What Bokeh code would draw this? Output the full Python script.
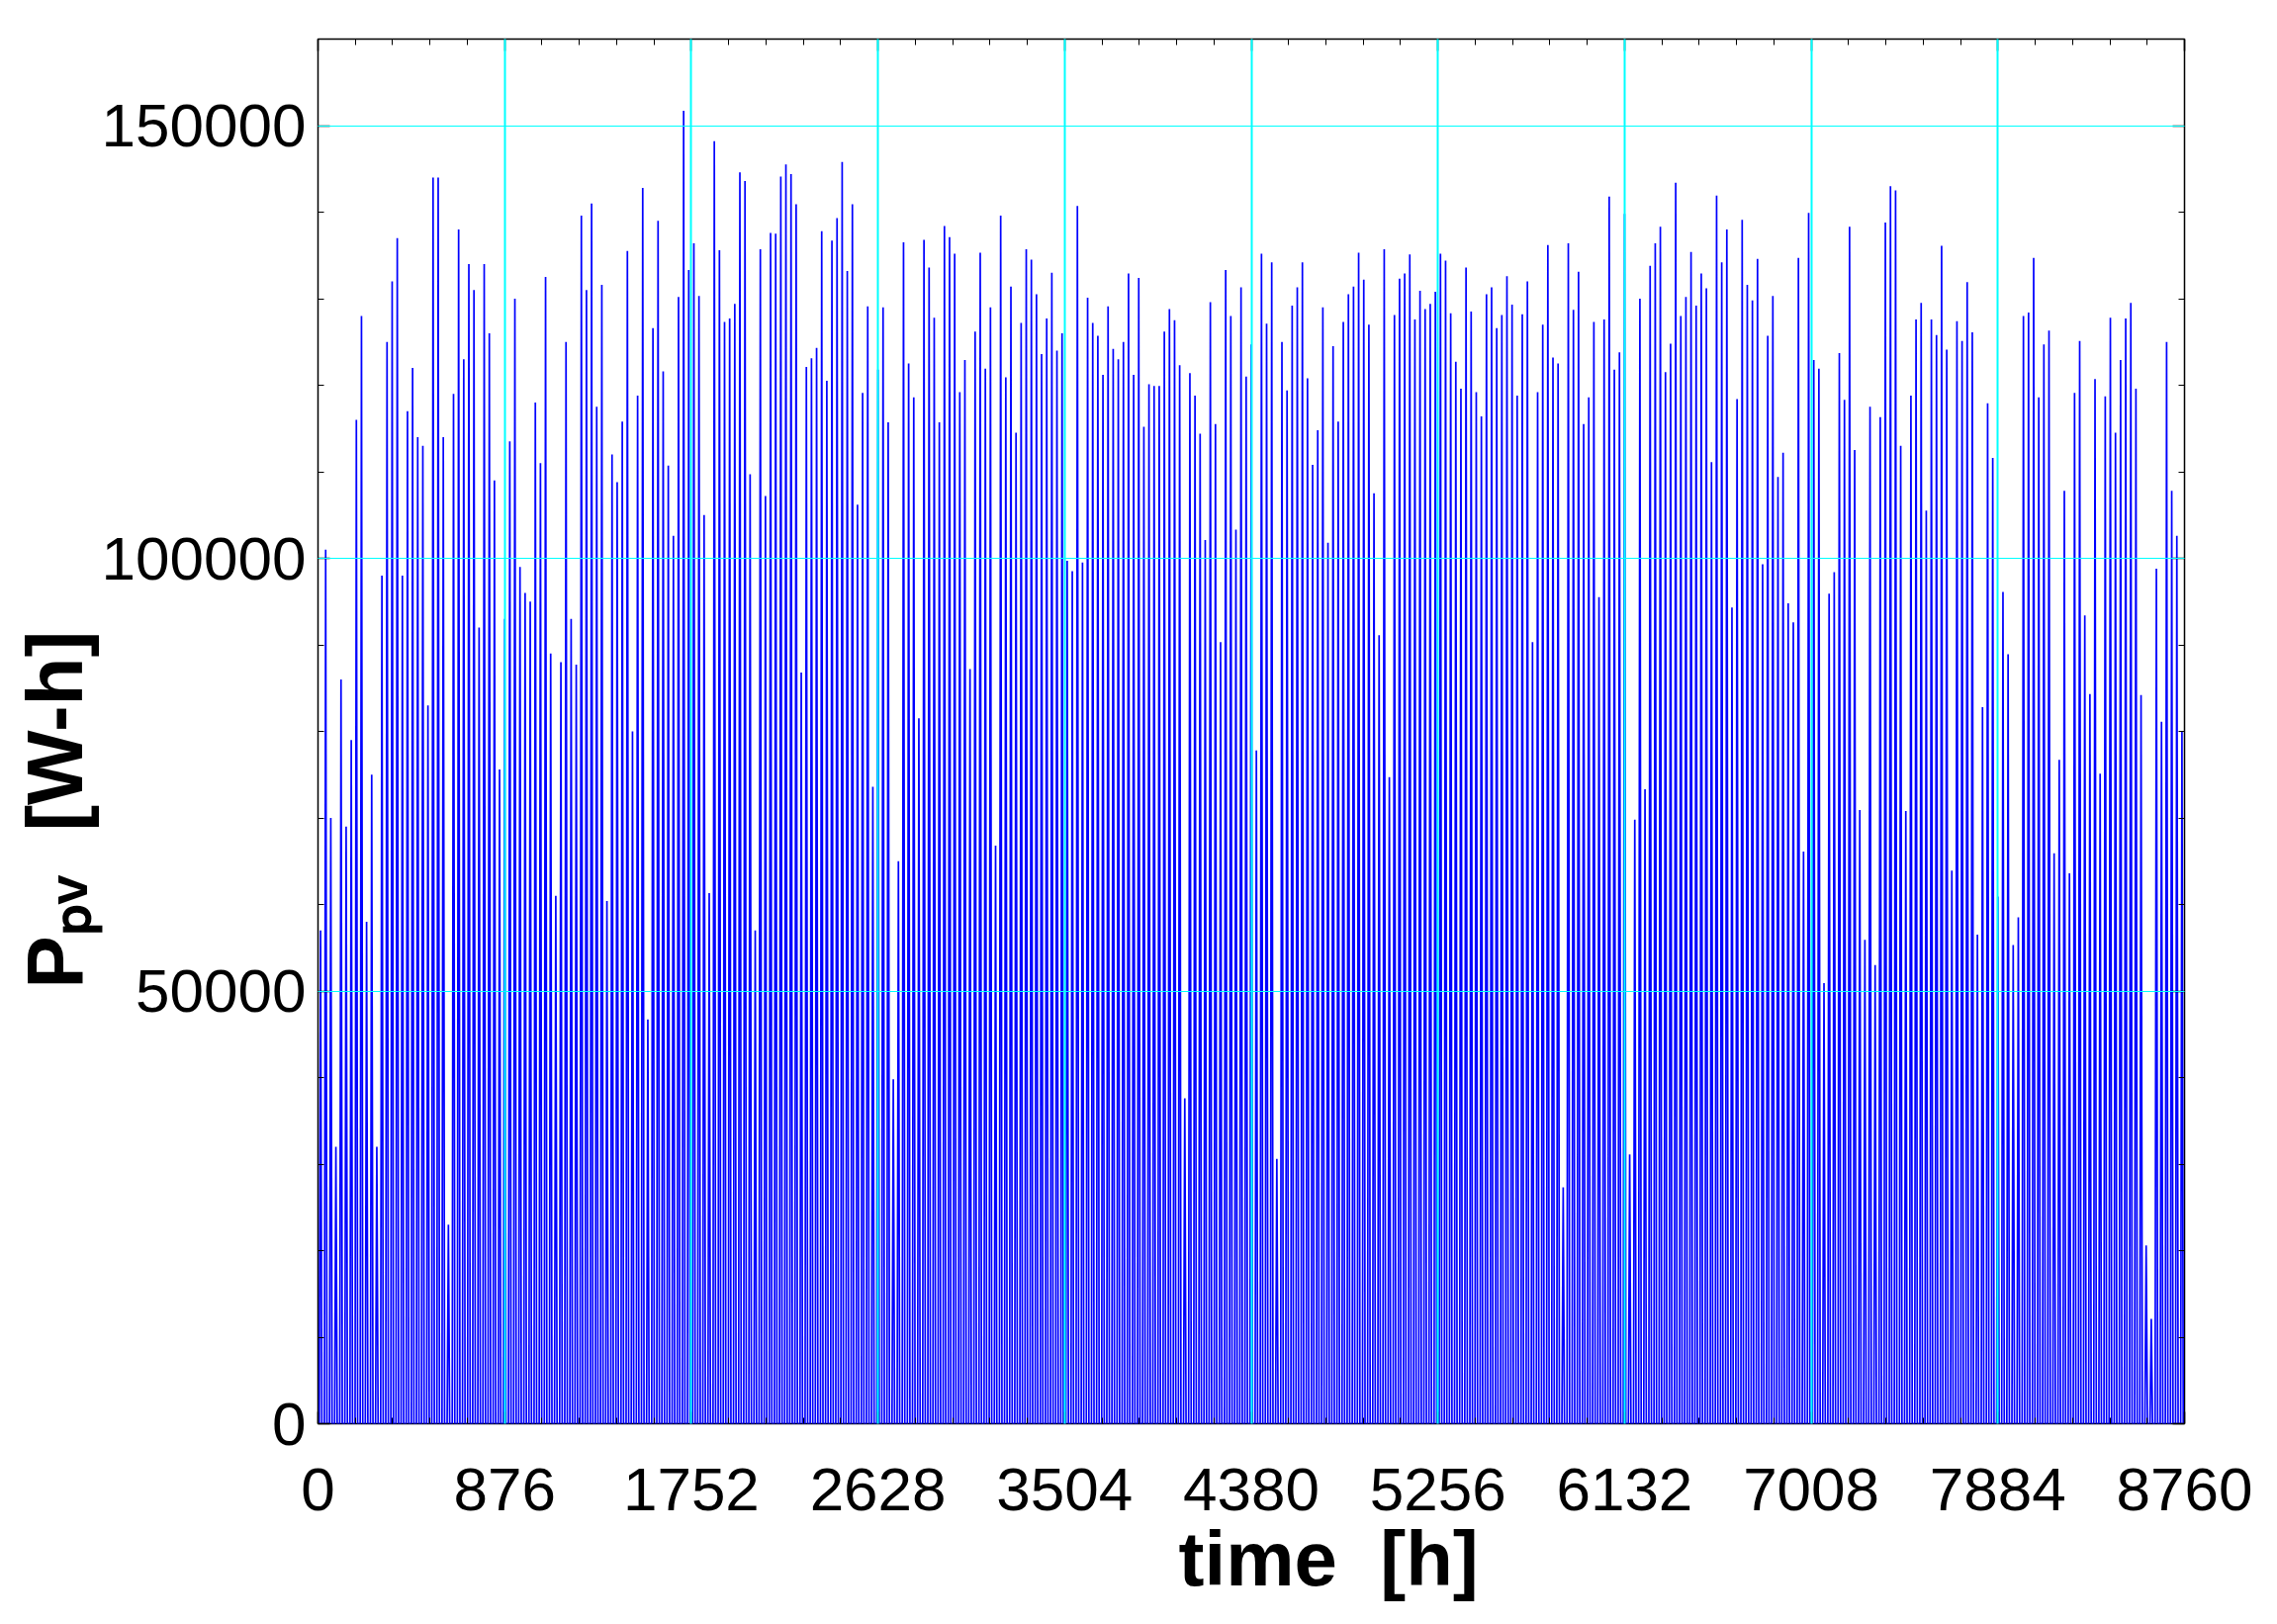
import numpy as np
from bokeh.plotting import figure
from bokeh.models import FixedTicker, LinearAxis, Range1d, ColumnDataSource, NumeralTickFormatter, Title
from bokeh.embed import file_html
from bokeh.resources import INLINE

# ---- data: daily peak PV energy [W-h] ----
peaks_d000_033 = [57000, 101000, 70000, 32000, 86000, 69000, 79000, 116000, 128000, 58000, 75000, 32000,
                  98000, 125000, 132000, 137000, 98000, 117000, 122000, 114000, 113000, 83000, 144000, 144000,
                  114000, 23000, 119000, 138000, 123000, 134000, 131000, 92000, 134000, 126000]
peaks_d034_066 = [109000, 75600, 93000, 113500, 130000, 99000, 96000, 95000, 118000, 111000, 132500, 89000,
                  61000, 88000, 125000, 93000, 87700, 139600, 131000, 141000, 117500, 131600, 60400, 112000,
                  108800, 115800, 135500, 80000, 118800, 142800, 46700, 126600, 139000]
peaks_d067_099 = [121600, 110700, 102600, 130200, 151700, 133300, 136400, 130300, 105000, 61300, 148200, 135600,
                  127300, 127700, 129400, 144600, 143600, 109700, 57000, 135700, 107200, 137600, 137500, 144100,
                  145500, 144400, 140900, 86800, 122100, 123100, 124300, 137800, 120500]
peaks_d100_132 = [136700, 139300, 145800, 133200, 140900, 106200, 119100, 129100, 73600, 121800, 129000, 115700,
                  39800, 65000, 136500, 122500, 118600, 81500, 136800, 133600, 127800, 115700, 138400, 137100,
                  135200, 119200, 122900, 87200, 126200, 135300, 121900, 129000, 66800]
peaks_d133_166 = [139600, 120900, 131400, 114500, 127200, 135700, 134500, 130500, 123600, 127700, 133000, 124000,
                  126000, 99700, 98500, 140700, 99500, 130100, 127200, 125700, 121200, 129100, 124200, 123000,
                  125000, 132900, 121200, 132400, 115200, 120100, 119900, 119900, 126200, 128800]
peaks_d167_199 = [127500, 122300, 37600, 121400, 118800, 114400, 102100, 129600, 115500, 90300, 133300, 128000,
                  103300, 131300, 121000, 124700, 77800, 135200, 127100, 134200, 30600, 125000, 119400, 129200,
                  131300, 134200, 120800, 110800, 114800, 129000, 101800, 124500, 115800]
peaks_d200_232 = [127300, 130500, 131400, 135300, 132200, 127000, 107500, 91100, 135700, 74700, 128100, 132300,
                  132900, 135100, 127600, 130900, 128800, 129400, 130800, 135200, 134400, 128300, 122700, 119600,
                  133600, 128500, 119200, 116400, 130500, 131300, 126600, 128100, 132600]
peaks_d233_265 = [129300, 118800, 128200, 132000, 90300, 119200, 127000, 136200, 123200, 122500, 27300, 136400,
                  128700, 133100, 115500, 118600, 127300, 95500, 127600, 141800, 121800, 123800, 139800, 31100,
                  69800, 130000, 73300, 133800, 136400, 138300, 121500, 124800, 143400]
peaks_d266_299 = [128000, 130200, 135400, 129200, 132900, 131200, 111100, 141900, 134200, 138000, 94300, 118400,
                  139100, 131600, 129800, 134600, 99300, 125700, 130300, 109400, 112200, 94800, 92600, 134700,
                  66100, 139900, 122900, 121900, 50900, 95900, 98400, 123700, 118300, 138300]
peaks_d300_332 = [112500, 70900, 55900, 117500, 53000, 116300, 138800, 143000, 142500, 113000, 70800, 118800,
                  127600, 129500, 105500, 127600, 125800, 136100, 124100, 63900, 127400, 125100, 131900, 126100,
                  56500, 82800, 117900, 111600, 60900, 96100, 88900, 55300, 58500]
peaks_d333_364 = [128000, 128400, 134700, 118600, 124700, 126300, 65900, 76700, 107800, 63600, 119100, 125100,
                  93400, 84300, 120700, 75100, 118700, 127800, 114500, 122900, 127700, 129500, 119600, 84200,
                  20600, 12100, 98800, 81100, 125000, 107800, 102600, 80000]

# hours of the day: sunrise (zero output), solar noon (peak), sunset (zero output)
day_hours = [6, 12, 18]

x_ticks = [0, 876, 1752, 2628, 3504, 4380, 5256, 6132, 7008, 7884, 8760]
y_ticks = [0, 50000, 100000, 150000]
x_minor = [t / 5 * 876 for t in range(0, 51)]
y_minor = list(range(0, 160001, 10000))

x_label = "time \u00a0[h]"
y_label = "P\u209a\u1d65 \u00a0[W-h]"

peaks = (peaks_d000_033 + peaks_d034_066 + peaks_d067_099 + peaks_d100_132 + peaks_d133_166 +
         peaks_d167_199 + peaks_d200_232 + peaks_d233_265 + peaks_d266_299 + peaks_d300_332 + peaks_d333_364)

hours = [0]
energy = [0]
for d, pk in enumerate(peaks):
    hours += [d * 24 + h for h in day_hours]
    energy += [0, pk, 0]
hours.append(8760)
energy.append(0)
src = ColumnDataSource(dict(t=hours, e=energy))

FONT = "Liberation Sans"

p = figure(width=2286, height=1626, x_range=Range1d(0, 8760), y_range=Range1d(0, 160000),
           output_backend="svg", toolbar_location=None,
           min_border_left=321, min_border_right=78, min_border_top=39, min_border_bottom=187)

p.line("t", "e", source=src, line_color="#0000ff", line_width=1.7)

p.outline_line_color = "black"
p.outline_line_width = 1.5

def style_axis(ax, show_labels):
    ax.axis_line_color = None
    ax.major_tick_in = 12
    ax.major_tick_out = 0
    ax.minor_tick_in = 6
    ax.minor_tick_out = 0
    ax.major_tick_line_color = "black"
    ax.minor_tick_line_color = "black"
    ax.major_tick_line_width = 1.5
    ax.major_label_text_font = FONT
    ax.major_label_text_color = "black"
    if show_labels:
        ax.major_label_text_font_size = "62px"
    else:
        ax.major_label_text_font_size = "0px"
        ax.major_label_text_alpha = 0

p.xaxis.ticker = FixedTicker(ticks=x_ticks, minor_ticks=x_minor)
p.yaxis.ticker = FixedTicker(ticks=y_ticks, minor_ticks=y_minor)
p.yaxis.formatter = NumeralTickFormatter(format="0")
style_axis(p.xaxis[0], True)
style_axis(p.yaxis[0], True)
p.xaxis.major_label_standoff = 45
p.yaxis.major_label_standoff = 12

top = LinearAxis(ticker=FixedTicker(ticks=x_ticks, minor_ticks=x_minor))
right = LinearAxis(ticker=FixedTicker(ticks=y_ticks, minor_ticks=y_minor))
style_axis(top, False)
style_axis(right, False)
p.add_layout(top, "above")
p.add_layout(right, "right")

p.xgrid.ticker = FixedTicker(ticks=x_ticks)
p.ygrid.ticker = FixedTicker(ticks=y_ticks)
p.xgrid.grid_line_color = "#00ffff"
p.xgrid.grid_line_width = 2
p.ygrid.grid_line_color = "#00ffff"
p.ygrid.grid_line_width = 1.2
p.xgrid.level = "overlay"
p.ygrid.level = "overlay"

# axis labels as titles in the side panels (offset from the frame's start)
p.add_layout(Title(text=x_label, align="left", offset=870, text_font=FONT, text_font_style="bold",
                   text_font_size="78px", text_color="black", standoff=0), "below")
p.add_layout(Title(text=y_label, align="left", offset=440, text_font=FONT, text_font_style="bold",
                   text_font_size="80px", text_color="black", standoff=0), "left")

open("out.html", "w").write(file_html(p, INLINE))
